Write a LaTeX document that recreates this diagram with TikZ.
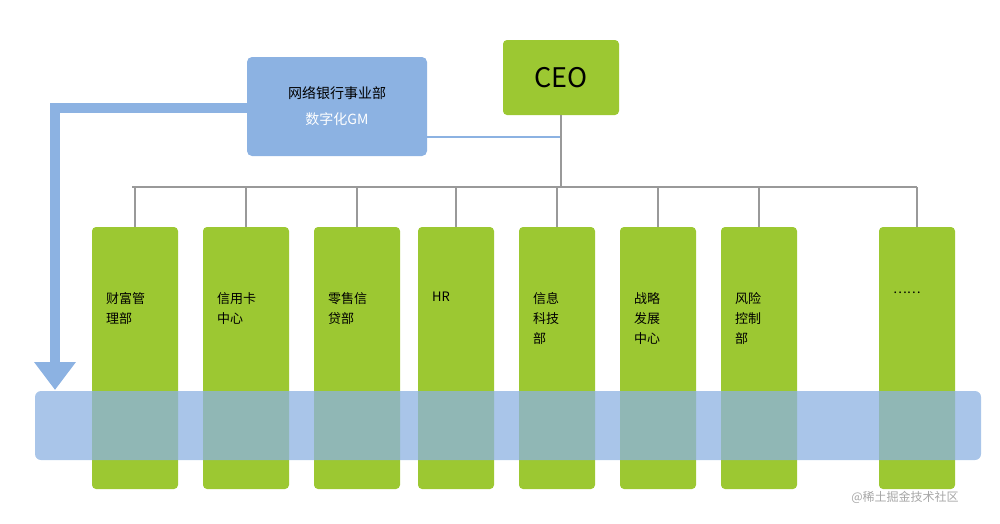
\documentclass[tikz,border=0pt]{standalone}
\usepackage{fontspec}
\setmainfont{Noto Sans CJK SC}
\usetikzlibrary{arrows.meta}
\definecolor{grn}{HTML}{9CC832}
\definecolor{blu}{HTML}{8CB2E2}
\definecolor{ln}{HTML}{999999}
\begin{document}
\begin{tikzpicture}[x=1pt,y=-1pt,
 col/.style={fill=grn,rounded corners=4pt,draw=none},
 lab/.style={anchor=north west,align=left,font=\fontsize{13}{20}\selectfont,inner sep=0pt},
 conn/.style={draw=ln,line width=2pt}]
\useasboundingbox (0,0) rectangle (1000,523);
\node[fill=grn,rounded corners=4pt,minimum width=116pt,minimum height=75pt,font=\fontsize{27}{30}\selectfont] (ceo) at (561,77.5) {CEO};
\node[fill=blu,rounded corners=5pt,minimum width=180pt,minimum height=99pt,align=center,font=\fontsize{14}{26}\selectfont] (gm) at (337,106.5) {网络银行事业部\\\textcolor{white}{数字化GM}};
\coordinate (j) at (561,187);
\draw[draw=blu,line width=2pt] (gm.east|-0,137) -- (561,137);
\draw[conn] (ceo.south) -- (j);
\draw[conn] (132,187) -- (917,187);
\foreach \n/\a/\b/\t in {c1/92/178/{财富管\\理部},c2/203/289/{信用卡\\中心},c3/314/400/{零售信\\贷部},c4/418/494/{HR},c5/519/595/{信息\\科技\\部},c6/620/696/{战略\\发展\\中心},c7/721/797/{风险\\控制\\部},c8/879/955/{……}}{
 \path[col] (\a,227) rectangle (\b,489);
 \coordinate (\n) at ({(\a+\b)/2},227);
 \node[lab] at (\a+14,292) {\t};
 \draw[conn] (\n|-j) -- (\n);
}
\fill[blu,opacity=0.75,rounded corners=6pt] (35,391) rectangle (981,460);
\draw[blu,line width=10pt,-{Triangle[width=40pt,length=28pt]}] (gm.west|-0,108) -- (55,108) -- (55,390);
\node[text=gray!70,font=\fontsize{12}{14}\selectfont] (wm) at (905,497) {@稀土掘金技术社区};
\end{tikzpicture}
\end{document}
